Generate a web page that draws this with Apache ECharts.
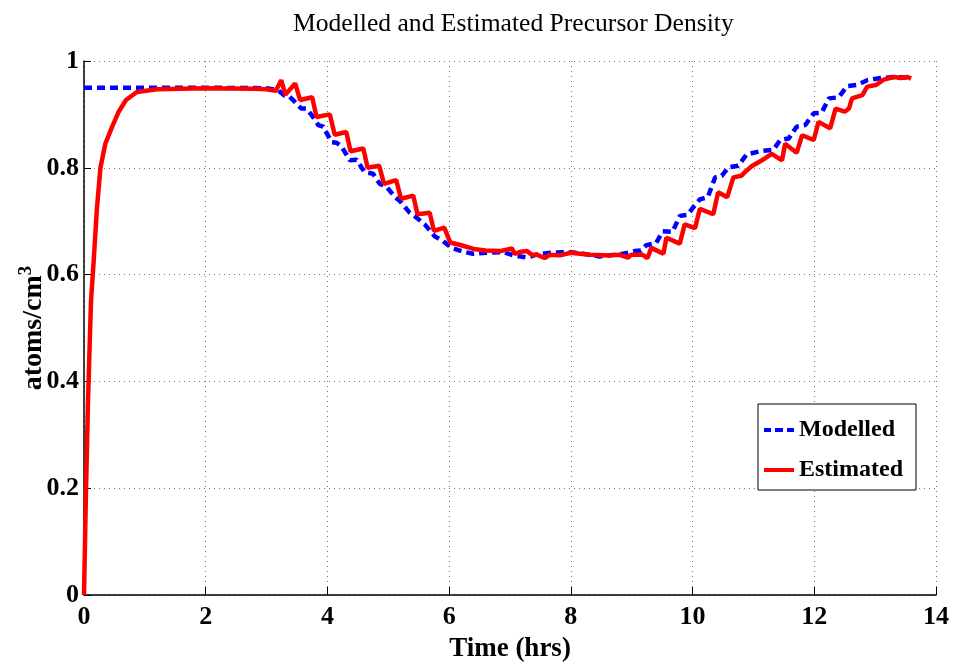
<!DOCTYPE html>
<html>
<head>
<meta charset="utf-8">
<script src="https://cdn.jsdelivr.net/npm/echarts@6/dist/echarts.min.js"></script>
<style>html,body{margin:0;padding:0;background:#fff}#c{width:955px;height:669px}</style>
</head>
<body>
<div id="c"></div>
<script>
// Tick values
var xTicks = [0, 2, 4, 6, 8, 10, 12, 14];
var yTicks = [0, 0.2, 0.4, 0.6, 0.8, 1];

// Modelled precursor density (hours, atoms/cm^3)
var tModelled = [0, 1, 2, 3.0, 3.19, 3.30, 3.38, 3.46, 3.57, 3.65, 3.74, 3.85, 3.93, 4.07, 4.15, 4.23, 4.37, 4.48, 4.61, 4.75, 4.86, 4.97, 5.11, 5.19, 5.35, 5.46, 5.60, 5.76, 5.90, 6.04, 6.23, 6.39, 6.61, 6.89, 7.06, 7.28, 7.45, 7.66, 7.87, 8.01, 8.2, 8.47, 8.86, 9.05, 9.15, 9.24, 9.40, 9.51, 9.67, 9.79, 9.92, 10.01, 10.12, 10.25, 10.37, 10.48, 10.59, 10.75, 10.89, 11.11, 11.33, 11.44, 11.58, 11.71, 11.85, 11.99, 12.12, 12.24, 12.40, 12.54, 12.70, 12.87, 13.09, 13.31, 13.53, 13.59];
var vModelled = [0.95, 0.95, 0.95, 0.949, 0.945, 0.935, 0.933, 0.924, 0.911, 0.911, 0.899, 0.880, 0.877, 0.848, 0.847, 0.840, 0.814, 0.815, 0.792, 0.789, 0.770, 0.765, 0.745, 0.738, 0.716, 0.707, 0.694, 0.672, 0.663, 0.650, 0.643, 0.639, 0.641, 0.642, 0.636, 0.632, 0.638, 0.641, 0.642, 0.642, 0.639, 0.634, 0.639, 0.644, 0.645, 0.655, 0.659, 0.681, 0.680, 0.710, 0.712, 0.726, 0.741, 0.745, 0.782, 0.785, 0.801, 0.804, 0.825, 0.831, 0.834, 0.852, 0.855, 0.877, 0.880, 0.902, 0.903, 0.930, 0.932, 0.953, 0.955, 0.964, 0.968, 0.970, 0.969, 0.967];

// Estimated precursor density (hours, atoms/cm^3)
var tEstimated = [0, 0.03, 0.066, 0.115, 0.16, 0.21, 0.27, 0.35, 0.46, 0.57, 0.69, 0.87, 1.2, 2.0, 2.8, 3.0, 3.15, 3.24, 3.31, 3.47, 3.55, 3.75, 3.82, 4.04, 4.12, 4.31, 4.38, 4.59, 4.66, 4.85, 4.93, 5.13, 5.21, 5.41, 5.48, 5.68, 5.75, 5.92, 6.02, 6.2, 6.4, 6.6, 6.84, 7.03, 7.08, 7.18, 7.28, 7.36, 7.45, 7.57, 7.65, 7.82, 8.0, 8.31, 8.64, 8.8, 8.94, 8.99, 9.18, 9.26, 9.32, 9.45, 9.52, 9.57, 9.79, 9.87, 10.04, 10.12, 10.34, 10.42, 10.57, 10.67, 10.80, 10.86, 10.97, 11.14, 11.30, 11.47, 11.52, 11.71, 11.80, 11.99, 12.07, 12.26, 12.35, 12.50, 12.57, 12.62, 12.79, 12.87, 13.01, 13.14, 13.31, 13.42, 13.53, 13.59];
var vEstimated = [0, 0.18, 0.365, 0.55, 0.627, 0.72, 0.80, 0.845, 0.876, 0.905, 0.927, 0.942, 0.947, 0.949, 0.948, 0.947, 0.944, 0.964, 0.937, 0.958, 0.927, 0.932, 0.895, 0.900, 0.862, 0.867, 0.831, 0.836, 0.800, 0.804, 0.770, 0.777, 0.742, 0.748, 0.713, 0.716, 0.682, 0.688, 0.660, 0.655, 0.648, 0.645, 0.644, 0.649, 0.639, 0.643, 0.644, 0.637, 0.637, 0.631, 0.637, 0.636, 0.641, 0.637, 0.636, 0.637, 0.632, 0.637, 0.637, 0.631, 0.650, 0.643, 0.639, 0.669, 0.658, 0.694, 0.687, 0.723, 0.713, 0.754, 0.745, 0.782, 0.785, 0.792, 0.803, 0.814, 0.826, 0.814, 0.845, 0.828, 0.861, 0.852, 0.886, 0.874, 0.911, 0.905, 0.911, 0.930, 0.936, 0.952, 0.955, 0.965, 0.970, 0.968, 0.970, 0.967];

function pairs(t, v) { return t.map(function (x, i) { return [x, v[i]]; }); }

var serif = '"Liberation Serif", "Times New Roman", serif';
var chart = echarts.init(document.getElementById('c'), null, { renderer: 'canvas' });
chart.setOption({
  animation: false,
  backgroundColor: '#ffffff',
  title: {
    text: 'Modelled and Estimated Precursor Density',
    left: 288, top: 6,
    textStyle: { fontFamily: serif, fontWeight: 'normal', fontSize: 25.6, color: '#000' }
  },
  grid: { left: 84, right: 19, top: 61, bottom: 74, containLabel: false, outerBoundsMode: 'none' },
  legend: {
    orient: 'vertical',
    left: 758, top: 404,
    backgroundColor: '#fff',
    borderColor: '#000', borderWidth: 1,
    padding: [12, 13, 6, 6],
    itemWidth: 30, itemHeight: 4, itemGap: 12,
    symbolKeepAspect: true,
    textStyle: { fontFamily: serif, fontWeight: 'bold', fontSize: 24, color: '#000', lineHeight: 28 },
    data: [
      { name: 'Modelled', icon: 'path://M0,0h7v4h-7z M11,0h8v4h-8z M23,0h7v4h-7z', itemStyle: { color: '#0000ff' } },
      { name: 'Estimated', icon: 'rect', itemStyle: { color: '#ff0000' } }
    ]
  },
  xAxis: {
    type: 'value', min: xTicks[0], max: xTicks[xTicks.length - 1], interval: 2,
    name: 'Time (hrs)', nameLocation: 'middle', nameGap: 41,
    nameTextStyle: { fontFamily: serif, fontWeight: 'bold', fontSize: 27, color: '#000' },
    axisLine: { show: true, onZero: false, lineStyle: { color: '#000', width: 1.5 } },
    axisTick: { show: true, inside: true, length: 8, lineStyle: { color: '#000' } },
    axisLabel: { fontFamily: serif, fontWeight: 'bold', fontSize: 26, color: '#000', margin: 9 },
    splitLine: { show: true, lineStyle: { color: '#777', type: [1, 4], width: 1 } }
  },
  yAxis: {
    type: 'value', min: yTicks[0], max: yTicks[yTicks.length - 1], interval: 0.2,
    name: 'atoms/cm{sup|3}', nameLocation: 'middle', nameGap: 34, nameMoveOverlap: false,
    nameTextStyle: {
      fontFamily: serif, fontWeight: 'bold', fontSize: 28, color: '#000',
      rich: { sup: { fontFamily: serif, fontWeight: 'bold', fontSize: 19, color: '#000', verticalAlign: 'top', padding: [0, 0, 14, 0] } }
    },
    axisLine: { show: true, onZero: false, lineStyle: { color: '#000', width: 1.5 } },
    axisTick: { show: true, inside: true, length: 7, lineStyle: { color: '#000' } },
    axisLabel: {
      fontFamily: serif, fontWeight: 'bold', fontSize: 26, color: '#000', margin: 5,
      formatter: function (v) { return String(Math.round(v * 10) / 10); }
    },
    splitLine: { show: true, lineStyle: { color: '#777', type: [1, 4], width: 1 } }
  },
  series: [
    {
      name: 'Modelled', type: 'line', showSymbol: false, symbol: 'none',
      data: pairs(tModelled, vModelled),
      lineStyle: { color: '#0000ff', width: 4.5, type: [8, 5] },
      itemStyle: { color: '#0000ff' }
    },
    {
      name: 'Estimated', type: 'line', showSymbol: false, symbol: 'none',
      data: pairs(tEstimated, vEstimated),
      lineStyle: { color: '#ff0000', width: 4.5 },
      itemStyle: { color: '#ff0000' }
    }
  ]
});
</script>
</body>
</html>
